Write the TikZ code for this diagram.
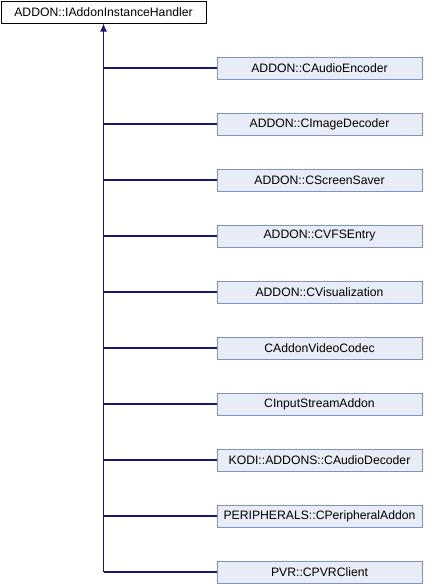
\documentclass[tikz,border=0pt]{standalone}
\usepackage{fontspec}
\setmainfont{Liberation Sans}
\usetikzlibrary{positioning,arrows.meta}
\definecolor{DoxFill}{HTML}{E8ECF6}
\definecolor{DoxBorder}{HTML}{7F93C9}
\definecolor{DoxLine}{HTML}{191970}

\begin{document}
\begin{tikzpicture}[x=1pt, y=-1pt,
    every node/.style={font=\fontsize{12.2}{14}\selectfont},
    basebox/.style={draw=black, fill=white, line width=1pt, minimum width=205pt, minimum height=22pt, inner sep=0pt},
    classbox/.style={draw=DoxBorder, fill=DoxFill, line width=1pt, minimum width=205pt, minimum height=22pt, inner sep=0pt},
    inherit/.style={draw=DoxLine, line width=1.2pt}]
  \useasboundingbox (0,0) rectangle (424,584);

  % base class
  \node[basebox] (base) at (103.5,12) {ADDON::IAddonInstanceHandler};

  % derived classes
  \foreach \name [count=\i] in {ADDON::CAudioEncoder, ADDON::CImageDecoder,
      ADDON::CScreenSaver, ADDON::CVFSEntry, ADDON::CVisualization,
      CAddonVideoCodec, CInputStreamAddon, KODI::ADDONS::CAudioDecoder,
      PERIPHERALS::CPeripheralAddon, PVR::CPVRClient}
    \node[classbox] (c\i) at (319.5,{68+56*(\i-1)}) {\name};

  % inheritance lines
  \foreach \i in {1,...,10}
    \draw[inherit] (c\i.west) -- (c\i.west -| base.south);
  \draw[inherit, -{Latex[length=8pt,width=7pt]}] (c10.west -| base.south) -- (base.south);
\end{tikzpicture}
\end{document}
